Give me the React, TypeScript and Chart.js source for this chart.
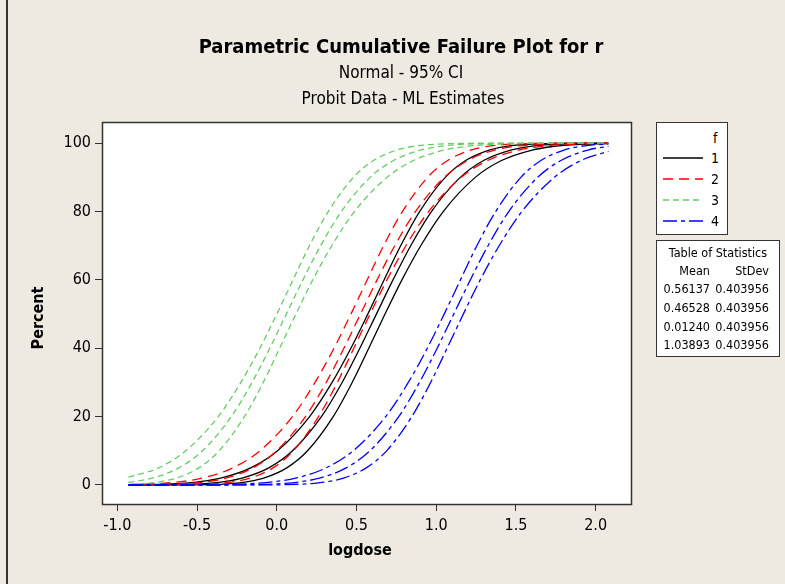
import React, { useEffect, useRef } from "react";
import { Chart, registerables } from "chart.js";

Chart.register(...registerables);

// ---------- data (logdose, percent) ----------
const X_TICKS = [-1, -0.5, 0, 0.5, 1, 1.5, 2];
const Y_TICKS = [0, 20, 40, 60, 80, 100];
const GROUPS = ["1", "2", "3", "4"];
const MEANS = ["0.56137", "0.46528", "0.01240", "1.03893"];
const STDEVS = ["0.403956", "0.403956", "0.403956", "0.403956"];

// group 1 (black, solid)
const F1_FIT: number[][] = [[-0.93, 0], [-0.642, 0.1], [-0.431, 0.5], [-0.329, 1], [-0.217, 2], [-0.05, 5], [0.099, 10], [0.28, 20], [0.41, 30], [0.521, 40], [0.625, 50], [0.729, 60], [0.84, 70], [0.97, 80], [1.151, 90], [1.3, 95], [1.467, 98], [1.579, 99], [1.681, 99.5], [1.892, 99.9], [2.08, 99.98]];
const F1_UP: number[][] = [[-0.93, 0.04], [-0.836, 0.1], [-0.596, 0.5], [-0.479, 1], [-0.352, 2], [-0.163, 5], [0.005, 10], [0.206, 20], [0.347, 30], [0.465, 40], [0.571, 50], [0.673, 60], [0.777, 70], [0.896, 80], [1.057, 90], [1.187, 95], [1.332, 98], [1.429, 99], [1.516, 99.5], [1.698, 99.9], [1.92, 99.99], [2.08, 100]];
const F1_LO: number[][] = [[-0.93, 0], [-0.448, 0.1], [-0.266, 0.5], [-0.179, 1], [-0.082, 2], [0.063, 5], [0.193, 10], [0.354, 20], [0.473, 30], [0.577, 40], [0.679, 50], [0.785, 60], [0.903, 70], [1.044, 80], [1.245, 90], [1.413, 95], [1.602, 98], [1.729, 99], [1.846, 99.5], [2.08, 99.9]];

// group 2 (red, long dash)
const F2_FIT: number[][] = [[-0.93, 0], [-0.742, 0.1], [-0.531, 0.5], [-0.429, 1], [-0.317, 2], [-0.15, 5], [-0.001, 10], [0.18, 20], [0.31, 30], [0.421, 40], [0.525, 50], [0.629, 60], [0.74, 70], [0.87, 80], [1.051, 90], [1.2, 95], [1.367, 98], [1.479, 99], [1.581, 99.5], [1.792, 99.9], [2.05, 99.99], [2.08, 100]];
const F2_UP: number[][] = [[-0.93, 0.13], [-0.714, 0.5], [-0.596, 1], [-0.467, 2], [-0.276, 5], [-0.106, 10], [0.098, 20], [0.24, 30], [0.359, 40], [0.465, 50], [0.567, 60], [0.67, 70], [0.788, 80], [0.946, 90], [1.074, 95], [1.217, 98], [1.312, 99], [1.398, 99.5], [1.576, 99.9], [1.793, 99.99], [2.08, 100]];
const F2_LO: number[][] = [[-0.93, 0], [-0.526, 0.1], [-0.348, 0.5], [-0.262, 1], [-0.167, 2], [-0.024, 5], [0.104, 10], [0.262, 20], [0.38, 30], [0.483, 40], [0.585, 50], [0.691, 60], [0.81, 70], [0.952, 80], [1.156, 90], [1.326, 95], [1.517, 98], [1.646, 99], [1.764, 99.5], [2.008, 99.9], [2.08, 99.93]];

// group 3 (green, short dash)
const F3_FIT: number[][] = [[-0.93, 0.8], [-0.894, 1], [-0.782, 2], [-0.615, 5], [-0.466, 10], [-0.285, 20], [-0.155, 30], [-0.044, 40], [0.06, 50], [0.164, 60], [0.275, 70], [0.405, 80], [0.586, 90], [0.735, 95], [0.902, 98], [1.014, 99], [1.116, 99.5], [1.327, 99.9], [1.585, 99.99], [2.08, 100]];
const F3_UP: number[][] = [[-0.93, 2.3], [-0.741, 5], [-0.571, 10], [-0.367, 20], [-0.225, 30], [-0.106, 40], [0.0, 50], [0.102, 60], [0.205, 70], [0.323, 80], [0.481, 90], [0.609, 95], [0.752, 98], [0.847, 99], [0.933, 99.5], [1.111, 99.9], [1.328, 99.99], [2.08, 100]];
const F3_LO: number[][] = [[-0.93, 0.2], [-0.813, 0.5], [-0.727, 1], [-0.632, 2], [-0.489, 5], [-0.361, 10], [-0.203, 20], [-0.085, 30], [0.018, 40], [0.12, 50], [0.226, 60], [0.345, 70], [0.487, 80], [0.691, 90], [0.861, 95], [1.052, 98], [1.181, 99], [1.299, 99.5], [1.543, 99.9], [1.842, 99.99], [2.08, 100]];

// group 4 (blue, dash-dot)
const F4_FIT: number[][] = [[-0.93, 0], [-0.415, 0.01], [-0.157, 0.1], [0.054, 0.5], [0.156, 1], [0.268, 2], [0.435, 5], [0.584, 10], [0.765, 20], [0.895, 30], [1.006, 40], [1.11, 50], [1.214, 60], [1.325, 70], [1.455, 80], [1.636, 90], [1.785, 95], [1.952, 98], [2.08, 99.1]];
const F4_UP: number[][] = [[-0.93, 0], [-0.672, 0.01], [-0.373, 0.1], [-0.129, 0.5], [-0.011, 1], [0.118, 2], [0.309, 5], [0.479, 10], [0.683, 20], [0.825, 30], [0.944, 40], [1.05, 50], [1.152, 60], [1.255, 70], [1.373, 80], [1.531, 90], [1.659, 95], [1.802, 98], [1.897, 99], [1.983, 99.5], [2.08, 99.75]];
const F4_LO: number[][] = [[-0.93, 0], [-0.158, 0.01], [0.059, 0.1], [0.237, 0.5], [0.323, 1], [0.418, 2], [0.561, 5], [0.689, 10], [0.847, 20], [0.965, 30], [1.068, 40], [1.17, 50], [1.276, 60], [1.395, 70], [1.537, 80], [1.741, 90], [1.911, 95], [2.08, 97.6]];

// ---------- styles ----------
const FONT = '"DejaVu Sans Condensed", "DejaVu Sans", sans-serif';
const BG = "#EEEAE1";
const COLORS = ["#000000", "#FF0000", "#66CC66", "#0000FF"];
const DASHES: number[][] = [[], [10, 6], [6, 4], [14, 4, 4, 4]];

const W = 785;
const H = 584;
const AREA = { left: 102, right: 632, top: 122, bottom: 504 };

const toPts = (arr: number[][]) => arr.map(([x, y]) => ({ x, y }));

const frame = {
  id: "frame",
  beforeDraw(chart: any) {
    const { ctx, chartArea: a } = chart;
    ctx.save();
    ctx.fillStyle = "#FFFFFF";
    ctx.fillRect(a.left, a.top, a.right - a.left, a.bottom - a.top);
    ctx.restore();
  },
  afterDraw(chart: any) {
    const { ctx, chartArea: a } = chart;
    ctx.save();
    ctx.strokeStyle = "#333333";
    ctx.lineWidth = 1.5;
    ctx.strokeRect(a.left + 0.5, a.top + 0.5, a.right - a.left - 1, a.bottom - a.top);
    ctx.restore();
  },
};

function ChartCanvas() {
  const ref = useRef<HTMLCanvasElement | null>(null);
  useEffect(() => {
    if (!ref.current) return;
    const groups = [
      [F4_FIT, F4_UP, F4_LO, 3],
      [F3_FIT, F3_UP, F3_LO, 2],
      [F2_FIT, F2_UP, F2_LO, 1],
      [F1_FIT, F1_UP, F1_LO, 0],
    ] as any[];
    const datasets: any[] = [];
    groups.forEach(([fit, up, lo, gi]) => {
      [fit, up, lo].forEach((arr: number[][], k: number) => {
        datasets.push({
          label: `${GROUPS[gi]}-${k}`,
          data: toPts(arr),
          showLine: true,
          borderColor: COLORS[gi],
          borderDash: DASHES[gi],
          borderWidth: 1.3,
          pointRadius: 0,
          fill: false,
          cubicInterpolationMode: "monotone",
        });
      });
    });
    const tickFont = { family: FONT, size: 16 };
    const chart = new Chart(ref.current, {
      type: "scatter",
      data: { datasets },
      options: {
        responsive: false,
        animation: false,
        events: [],
        layout: { padding: { left: 0, right: W - AREA.right, top: AREA.top, bottom: 0 } },
        plugins: { legend: { display: false }, tooltip: { enabled: false }, title: { display: false } },
        scales: {
          x: {
            type: "linear",
            min: -1.096,
            max: 2.228,
            afterBuildTicks: (s: any) => {
              s.ticks = X_TICKS.map((v) => ({ value: v }));
            },
            afterFit: (s: any) => {
              s.height = H - AREA.bottom;
            },
            ticks: {
              callback: (v: any) => Number(v).toFixed(1),
              font: tickFont,
              color: "#000",
              padding: 5,
              maxRotation: 0,
              autoSkip: false,
            },
            grid: { drawOnChartArea: false, drawTicks: true, tickLength: 7, color: "#333", lineWidth: 1 },
            border: { display: false },
          },
          y: {
            type: "linear",
            min: -5.56,
            max: 106.2,
            afterBuildTicks: (s: any) => {
              s.ticks = Y_TICKS.map((v) => ({ value: v }));
            },
            afterFit: (s: any) => {
              s.width = AREA.left;
            },
            ticks: { font: tickFont, color: "#000", padding: 4, autoSkip: false },
            grid: { drawOnChartArea: false, drawTicks: true, tickLength: 7, color: "#333", lineWidth: 1 },
            border: { display: false },
          },
        },
      },
      plugins: [frame],
    } as any);
    return () => chart.destroy();
  }, []);
  return <canvas ref={ref} width={W} height={H} style={{ position: "absolute", left: 0, top: 0, width: W, height: H }} />;
}

const abs = (extra: React.CSSProperties): React.CSSProperties => ({ position: "absolute", fontFamily: FONT, color: "#000", whiteSpace: "nowrap", ...extra });

function CenterText({ x, y, size, bold, children }: any) {
  return (
    <div style={abs({ left: x - 300, width: 600, top: y - size / 2 - 2, height: size + 4, lineHeight: `${size + 4}px`, fontSize: size, fontWeight: bold ? "bold" : "normal", textAlign: "center" })}>
      {children}
    </div>
  );
}

function RightText({ x, y, size, children }: any) {
  return (
    <div style={abs({ left: x - 100, width: 100, top: y - size / 2 - 2, height: size + 4, lineHeight: `${size + 4}px`, fontSize: size, textAlign: "right" })}>
      {children}
    </div>
  );
}

export default function App() {
  const legendY = [158, 179, 200, 221];
  const rowY = [289, 308, 327, 345];
  return (
    <div style={{ position: "fixed", left: 0, top: 0, width: W, height: H, background: BG, overflow: "hidden" }}>
      <ChartCanvas />
      <div style={{ position: "absolute", left: 6, top: 0, width: 1.5, height: H, background: "#333" }} />
      <CenterText x={401} y={46} size={20} bold>Parametric Cumulative Failure Plot for r</CenterText>
      <CenterText x={401} y={72} size={17}>Normal - 95% CI</CenterText>
      <CenterText x={403} y={98} size={17}>Probit Data - ML Estimates</CenterText>
      <CenterText x={360} y={550} size={16} bold>logdose</CenterText>
      <div style={abs({ left: 38 - 60, top: 318 - 10, width: 120, height: 20, lineHeight: "20px", fontSize: 16, fontWeight: "bold", textAlign: "center", transform: "rotate(-90deg)" })}>Percent</div>

      {/* legend box */}
      <div style={{ position: "absolute", left: 656, top: 122, width: 70, height: 111, background: "#fff", border: "1px solid #333" }} />
      <div style={abs({ left: 713, top: 130, fontSize: 14, lineHeight: "16px" })}>f</div>
      <svg width={W} height={H} style={{ position: "absolute", left: 0, top: 0, pointerEvents: "none" }}>
        {GROUPS.map((g, i) => (
          <line key={g} x1={663} x2={703} y1={legendY[i]} y2={legendY[i]} stroke={COLORS[i]} strokeWidth={1.5} strokeDasharray={DASHES[i].length ? DASHES[i].join(" ") : undefined} />
        ))}
      </svg>
      {GROUPS.map((g, i) => (
        <div key={g} style={abs({ left: 711, top: legendY[i] - 8, fontSize: 14, lineHeight: "16px" })}>{g}</div>
      ))}

      {/* table of statistics */}
      <div style={{ position: "absolute", left: 656, top: 240, width: 122, height: 115, background: "#fff", border: "1px solid #333" }} />
      <div style={abs({ left: 656, width: 124, top: 253 - 8, lineHeight: "16px", fontSize: 12.5, textAlign: "center" })}>Table of Statistics</div>
      <RightText x={710} y={271} size={12.5}>Mean</RightText>
      <RightText x={769} y={271} size={12.5}>StDev</RightText>
      {MEANS.map((m, i) => (
        <React.Fragment key={i}>
          <RightText x={710} y={rowY[i]} size={12.5}>{m}</RightText>
          <RightText x={769} y={rowY[i]} size={12.5}>{STDEVS[i]}</RightText>
        </React.Fragment>
      ))}
    </div>
  );
}
